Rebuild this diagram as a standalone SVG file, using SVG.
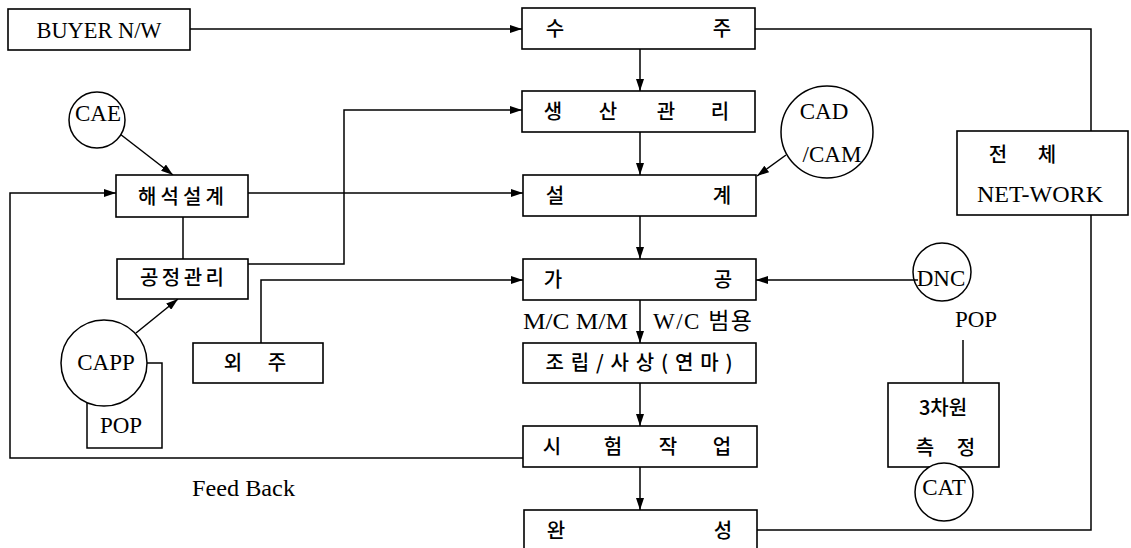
<svg xmlns="http://www.w3.org/2000/svg" width="1131" height="548" viewBox="0 0 1131 548">
<style>
.box{fill:#fff;stroke:#000;stroke-width:1.6}
.circ{fill:#fff;stroke:#000;stroke-width:1.5}
.ln{fill:none;stroke:#000;stroke-width:1.5}
.ar{fill:none;stroke:#000;stroke-width:1.5;marker-end:url(#ah)}
text{font-family:"Liberation Serif","Noto Sans CJK KR",serif;fill:#000}
.lat{font-size:23px;font-family:"Liberation Serif","Noto Sans CJK KR",serif}
.kr{font-size:20px;font-weight:500;font-family:"Noto Sans CJK KR","Liberation Serif",sans-serif;text-anchor:middle}
.mid{text-anchor:middle}
</style>
<defs>
<marker id="ah" markerUnits="userSpaceOnUse" markerWidth="12" markerHeight="8" refX="12" refY="4" orient="auto">
<path d="M0,0 L12,4 L0,8 Z" fill="#000"/>
</marker>
</defs>
<rect width="1131" height="548" fill="#fff"/>

<g id="connectors">
<line class="ar" x1="190" y1="29" x2="522" y2="29"/>
<line class="ar" x1="640" y1="49" x2="640" y2="91"/>
<line class="ar" x1="640" y1="132" x2="640" y2="175"/>
<line class="ar" x1="640" y1="216" x2="640" y2="259"/>
<line class="ar" x1="640" y1="300" x2="640" y2="343"/>
<line class="ar" x1="640" y1="383" x2="640" y2="426"/>
<line class="ar" x1="640" y1="467" x2="640" y2="510"/>
<line class="ar" x1="786" y1="155" x2="757" y2="176"/>
<line class="ar" x1="918" y1="280" x2="756" y2="280"/>
<line class="ar" x1="120" y1="134" x2="173" y2="175"/>
<line class="ar" x1="248" y1="193" x2="523" y2="193"/>
<polyline class="ar" points="248,264 344,264 344,110 522,110"/>
<polyline class="ar" points="261,343 261,280 523,280"/>
<line class="ar" x1="136" y1="333" x2="178" y2="299"/>
<polyline class="ar" points="523,458 10,458 10,193 116,193"/>
<polyline class="ln" points="755,29 1091,29 1091,131"/>
<polyline class="ln" points="1091,215 1091,530 757,530"/>
<line class="ln" x1="183" y1="217" x2="183" y2="259"/>
<line class="ln" x1="963" y1="340" x2="963" y2="383"/>
<path class="ln" d="M147,363 H162 V448 H87 V403"/>
</g>

<g id="buyer">
<rect class="box" x="8" y="9" width="182" height="41"/>
<text class="lat mid" x="99" y="38" textLength="125" lengthAdjust="spacingAndGlyphs">BUYER N/W</text>
</g>

<g id="suju">
<rect class="box" x="522" y="8" width="233" height="41"/>
<text class="kr" x="555" y="36">수</text>
<text class="kr" x="722" y="36">주</text>
</g>

<g id="saengsan">
<rect class="box" x="522" y="91" width="233" height="41"/>
<text class="kr" x="553" y="119">생</text>
<text class="kr" x="608" y="119">산</text>
<text class="kr" x="666" y="119">관</text>
<text class="kr" x="720" y="119">리</text>
</g>

<g id="seolgye">
<rect class="box" x="523" y="175" width="233" height="41"/>
<text class="kr" x="555" y="203">설</text>
<text class="kr" x="722" y="203">계</text>
</g>

<g id="gagong">
<rect class="box" x="523" y="259" width="233" height="41"/>
<text class="kr" x="553" y="287">가</text>
<text class="kr" x="723" y="287">공</text>
</g>

<g id="label-mc">
<text class="lat" x="523" y="329" font-size="21" textLength="105" lengthAdjust="spacingAndGlyphs">M/C M/M</text>
<text class="lat" x="653" y="329" font-size="21" textLength="99" lengthAdjust="spacing">W/C 범용</text>
</g>

<g id="jorip">
<rect class="box" x="523" y="343" width="233" height="40"/>
<text class="kr" x="639" y="370" textLength="187" lengthAdjust="spacing">조립/사상(연마)</text>
</g>

<g id="siheom">
<rect class="box" x="523" y="426" width="234" height="41"/>
<text class="kr" x="552" y="454">시</text>
<text class="kr" x="613" y="454">험</text>
<text class="kr" x="668" y="454">작</text>
<text class="kr" x="722" y="454">업</text>
</g>

<g id="wanseong">
<rect class="box" x="524" y="510" width="233" height="50"/>
<text class="kr" x="556" y="538">완</text>
<text class="kr" x="723" y="538">성</text>
</g>

<g id="network">
<rect class="box" x="957" y="131" width="171" height="84"/>
<text class="kr" x="998" y="162">전</text>
<text class="kr" x="1047" y="162">체</text>
<text class="lat mid" x="1040" y="202" textLength="126" lengthAdjust="spacingAndGlyphs">NET-WORK</text>
</g>

<g id="cadcam">
<circle class="circ" cx="827" cy="132" r="46"/>
<text class="lat mid" x="824" y="119">CAD</text>
<text class="lat mid" x="832" y="162">/CAM</text>
</g>

<g id="dnc">
<circle class="circ" cx="942" cy="272" r="29" style="fill:none"/>
<text class="lat mid" x="941" y="286">DNC</text>
<text class="lat mid" x="976" y="327">POP</text>
</g>

<g id="sam">
<rect class="box" x="888" y="383" width="111" height="84"/>
<text class="kr" x="943" y="415" font-size="18">3차원</text>
<text class="kr" x="925" y="455" font-size="18">측</text>
<text class="kr" x="966" y="455" font-size="18">정</text>
</g>

<g id="cat">
<circle class="circ" cx="944" cy="492" r="29"/>
<text class="lat mid" x="944" y="495">CAT</text>
</g>

<g id="cae">
<circle class="circ" cx="97" cy="120" r="28"/>
<text class="lat mid" x="98" y="121">CAE</text>
</g>

<g id="haeseok">
<rect class="box" x="116" y="175" width="132" height="42"/>
<text class="kr" x="181" y="204" textLength="86" lengthAdjust="spacing">해석설계</text>
</g>

<g id="gongjeong">
<rect class="box" x="117" y="259" width="131" height="40"/>
<text class="kr" x="182" y="285" textLength="84" lengthAdjust="spacing">공정관리</text>
</g>

<g id="oeju">
<rect class="box" x="193" y="343" width="130" height="40"/>
<text class="kr" x="233" y="370">외</text>
<text class="kr" x="277" y="370">주</text>
</g>

<g id="capp">
<circle class="circ" cx="104" cy="363" r="43"/>
<text class="lat mid" x="106" y="370">CAPP</text>
<text class="lat mid" x="121" y="433">POP</text>
</g>

<g id="feedback">
<text class="lat" x="192" y="496" font-size="19" textLength="103" lengthAdjust="spacingAndGlyphs">Feed Back</text>
</g>
</svg>
